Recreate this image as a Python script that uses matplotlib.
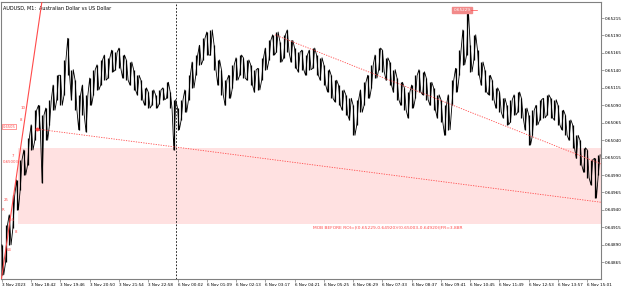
import numpy as np
import matplotlib
matplotlib.use("Agg")
import matplotlib.pyplot as plt

# AUDUSD M1, 3 Nov 2023 17:38 -> 6 Nov 15:30
# each column = 8 one-minute bars, high / low
bar_step = 8
highs = [0.64890, 0.64918, 0.64933, 0.64961, 0.64983, 0.65012, 0.65026, 0.65043, 0.65062, 0.65083,
         0.65090, 0.65076, 0.65086, 0.65098, 0.65119, 0.65133, 0.65133, 0.65155, 0.65186, 0.65141,
         0.65126, 0.65105, 0.65119, 0.65105, 0.65129, 0.65141, 0.65148, 0.65155, 0.65162, 0.65158,
         0.65169, 0.65166, 0.65172, 0.65162, 0.65155, 0.65152, 0.65141, 0.65133, 0.65126, 0.65115,
         0.65109, 0.65112, 0.65105, 0.65112, 0.65115, 0.65123, 0.65109, 0.65098, 0.65086, 0.65098,
         0.65112, 0.65133, 0.65152, 0.65162, 0.65176, 0.65186, 0.65195, 0.65198, 0.65176, 0.65155,
         0.65141, 0.65126, 0.65133, 0.65148, 0.65158, 0.65162, 0.65158, 0.65155, 0.65148, 0.65141,
         0.65143, 0.65158, 0.65172, 0.65183, 0.65191, 0.65195, 0.65181, 0.65191, 0.65198, 0.65183,
         0.65172, 0.65166, 0.65169, 0.65162, 0.65169, 0.65172, 0.65162, 0.65158, 0.65148, 0.65141,
         0.65133, 0.65126, 0.65119, 0.65112, 0.65105, 0.65100, 0.65090, 0.65098, 0.65112, 0.65123,
         0.65133, 0.65148, 0.65162, 0.65172, 0.65169, 0.65158, 0.65152, 0.65141, 0.65129, 0.65123,
         0.65115, 0.65109, 0.65119, 0.65133, 0.65141, 0.65138, 0.65129, 0.65123, 0.65115, 0.65105,
         0.65098, 0.65090, 0.65105, 0.65126, 0.65143, 0.65169, 0.65198, 0.65226, 0.65176, 0.65191,
         0.65169, 0.65152, 0.65141, 0.65133, 0.65126, 0.65115, 0.65109, 0.65100, 0.65090, 0.65098,
         0.65105, 0.65109, 0.65100, 0.65086, 0.65076, 0.65083, 0.65090, 0.65098, 0.65100, 0.65105,
         0.65100, 0.65098, 0.65090, 0.65083, 0.65076, 0.65069, 0.65062, 0.65047, 0.65040, 0.65029,
         0.65026, 0.65012, 0.65014, 0.65019]
lows = [0.64847, 0.64865, 0.64890, 0.64914, 0.64940, 0.64969, 0.64990, 0.65004, 0.65026, 0.65040,
        0.65055, 0.64979, 0.65040, 0.65062, 0.65083, 0.65098, 0.65090, 0.65105, 0.65133, 0.65098,
        0.65083, 0.65055, 0.65076, 0.65052, 0.65090, 0.65105, 0.65112, 0.65119, 0.65126, 0.65129,
        0.65138, 0.65141, 0.65143, 0.65129, 0.65126, 0.65119, 0.65112, 0.65105, 0.65098, 0.65090,
        0.65086, 0.65090, 0.65086, 0.65092, 0.65098, 0.65100, 0.65086, 0.65026, 0.65055, 0.65069,
        0.65080, 0.65098, 0.65115, 0.65133, 0.65148, 0.65155, 0.65162, 0.65162, 0.65141, 0.65119,
        0.65105, 0.65090, 0.65100, 0.65115, 0.65126, 0.65133, 0.65129, 0.65126, 0.65119, 0.65109,
        0.65112, 0.65126, 0.65141, 0.65155, 0.65162, 0.65166, 0.65152, 0.65158, 0.65166, 0.65152,
        0.65143, 0.65138, 0.65141, 0.65133, 0.65141, 0.65143, 0.65133, 0.65126, 0.65119, 0.65109,
        0.65100, 0.65095, 0.65090, 0.65083, 0.65076, 0.65069, 0.65047, 0.65062, 0.65080, 0.65090,
        0.65100, 0.65115, 0.65129, 0.65141, 0.65138, 0.65126, 0.65119, 0.65109, 0.65098, 0.65090,
        0.65083, 0.65072, 0.65086, 0.65100, 0.65109, 0.65105, 0.65098, 0.65090, 0.65083, 0.65072,
        0.65066, 0.65047, 0.65055, 0.65090, 0.65109, 0.65133, 0.65148, 0.65162, 0.65138, 0.65155,
        0.65133, 0.65119, 0.65109, 0.65105, 0.65098, 0.65086, 0.65080, 0.65072, 0.65062, 0.65066,
        0.65076, 0.65080, 0.65072, 0.65055, 0.65033, 0.65047, 0.65062, 0.65069, 0.65072, 0.65076,
        0.65072, 0.65069, 0.65062, 0.65055, 0.65047, 0.65040, 0.65029, 0.65014, 0.65004, 0.64994,
        0.64986, 0.64976, 0.64957, 0.64990]

time_labels = ["3 Nov 2023", "3 Nov 18:42", "3 Nov 19:46", "3 Nov 20:50", "3 Nov 21:54",
               "3 Nov 22:58", "6 Nov 00:02", "6 Nov 01:09", "6 Nov 02:13", "6 Nov 03:17",
               "6 Nov 04:21", "6 Nov 05:25", "6 Nov 06:29", "6 Nov 07:33", "6 Nov 08:37",
               "6 Nov 09:41", "6 Nov 10:45", "6 Nov 11:49", "6 Nov 12:53", "6 Nov 13:57",
               "6 Nov 15:01"]
label_every = 64
price_ticks = [0.64865, 0.64890, 0.64915, 0.64940, 0.64965, 0.64990, 0.65015, 0.65040,
               0.65065, 0.65090, 0.65115, 0.65140, 0.65165, 0.65190, 0.65215]

day_sep = 381
zone = (35, 0.64920, 0.65029)         # start bar, low, high
trend_up = [(-1, 0.64841), (88, 0.65241)]
dotted_low = [(76, 0.65056), (1310, 0.64951)]
dotted_high = [(597, 0.65191), (1310, 0.65006)]
peak = (1006, 0.65229)
note = "MOB BEFORE ROI=|(0.65229-0.64920)/(0.65003-0.64920)|FR=3.88R"

RED = "#ff4a4a"
fs = 3.0

fig = plt.figure(figsize=(6.25, 2.89), dpi=100)
ax = fig.add_axes([1 / 625, 1 - 279 / 289, 600 / 625, 277 / 289])
ax.set_xlim(-2, 1310)
ax.set_ylim(0.64841, 0.65238)

# pink zone
ax.axhspan(zone[1], zone[2], xmin=(zone[0] + 2) / 1312, xmax=1, color="#ffe1e1", lw=0, zorder=0)

# price as dense zigzag high/low
x = np.arange(len(highs)) * bar_step
zx, zy = [], []
for i in range(len(highs)):
    if i % 2 == 0:
        zx += [x[i], x[i] + bar_step / 2]
        zy += [highs[i], lows[i]]
    else:
        zx += [x[i], x[i] + bar_step / 2]
        zy += [lows[i], highs[i]]
ax.vlines(x, lows, highs, color="black", lw=0.9, zorder=3)
ax.plot(zx, zy, color="black", lw=0.6, zorder=3)

ax.axvline(day_sep, color="black", lw=0.6, ls=(0, (2, 2)), zorder=2)

ax.plot(*zip(*trend_up), color=RED, lw=0.8, zorder=4)
ax.plot(*zip(*dotted_low), color=RED, lw=0.6, ls=(0, (1.5, 1.5)), zorder=4)
ax.plot(*zip(*dotted_high), color=RED, lw=0.6, ls=(0, (1.5, 1.5)), zorder=4)
ax.plot(dotted_low[0][0], dotted_low[0][1], "o", color=RED, ms=1.8, zorder=5)

# peak price label
ax.text(peak[0], peak[1] - 0.00003, "0.65229", fontsize=fs, color="white", ha="center", va="center",
        bbox=dict(boxstyle="square,pad=0.25", fc="#f28a8a", ec="#f28a8a"), zorder=6)
ax.plot([peak[0] + 20, peak[0] + 32], [peak[1] - 0.00003, peak[1] - 0.00003], color=RED, lw=0.5, zorder=6)

# small fib labels on the left
ax.text(1, 0.65059, "0.6505", fontsize=fs - 0.4, color=RED, va="center",
        bbox=dict(boxstyle="square,pad=0.15", fc="white", ec=RED, lw=0.4), zorder=6)
ax.text(1, 0.65008, "0.65003", fontsize=fs - 0.2, color=RED, va="center", zorder=6)
for bx, by, t in [(40, 0.65086, "10"), (40, 0.65069, "8"), (22, 0.65018, "7"),
                  (4, 0.64954, "25"), (0, 0.64940, "R"), (16, 0.64926, "0.5"),
                  (28, 0.64908, "8"), (10, 0.64882, "64")]:
    ax.text(bx, by, t, fontsize=fs - 0.2, color=RED, va="center", zorder=6)

ax.text(680, 0.64915, note, fontsize=3.15, color=RED, ha="left", va="center")
ax.text(0.004, 0.985, "AUDUSD, M1:  Australian Dollar vs US Dollar", transform=ax.transAxes,
        fontsize=3.5, ha="left", va="top")

ax.set_xticks(np.arange(len(time_labels)) * label_every)
ax.set_xticklabels(time_labels, ha="left")
ax.set_yticks(price_ticks)
ax.set_yticklabels(["%.5f" % p for p in price_ticks])
ax.yaxis.tick_right()
ax.tick_params(axis="both", labelsize=fs, length=2, width=0.5, color="#808080", pad=0.8)
for s in ax.spines.values():
    s.set_color("#808080")
    s.set_linewidth(0.8)

fig.savefig("out.png", dpi=100)
